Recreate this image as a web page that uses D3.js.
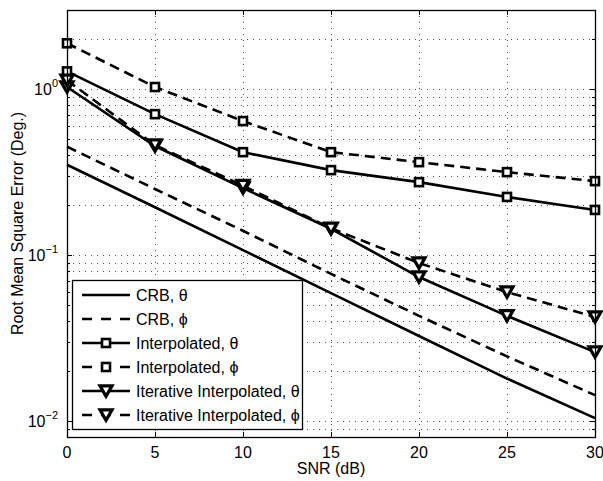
<!DOCTYPE html>
<html>
<head>
<meta charset="utf-8">
<script src="https://cdn.jsdelivr.net/npm/d3@7"></script>
<style>
  body { margin: 0; background: #fff; }
  svg { display: block; font-family: "Liberation Sans", Arial, sans-serif; }
</style>
</head>
<body>
<div id="chart"></div>
<script>
// SNR points (dB)
const snr = [0, 5, 10, 15, 20, 25, 30];

// RMSE values (degrees)
const crbTheta = [0.35, 0.194, 0.107, 0.059, 0.0325, 0.018, 0.0104];
const crbPhi = [0.45, 0.25, 0.14, 0.077, 0.043, 0.0245, 0.0143];
const interpTheta = [1.28, 0.707, 0.417, 0.325, 0.275, 0.224, 0.187];
const interpPhi = [1.89, 1.03, 0.642, 0.417, 0.363, 0.316, 0.279];
const iterTheta = [1.03, 0.454, 0.253, 0.144, 0.0737, 0.043, 0.026];
const iterPhi = [1.13, 0.46, 0.262, 0.145, 0.0895, 0.0598, 0.0423];

const xTicks = [0, 5, 10, 15, 20, 25, 30];
const yMajor = [0.01, 0.1, 1];

const series = [
  { name: "CRB, θ", values: crbTheta, dash: null, marker: null },
  { name: "CRB, ϕ", values: crbPhi, dash: "10,6", marker: null },
  { name: "Interpolated, θ", values: interpTheta, dash: null, marker: "square" },
  { name: "Interpolated, ϕ", values: interpPhi, dash: "10,6", marker: "square" },
  { name: "Iterative Interpolated, θ", values: iterTheta, dash: null, marker: "triangle" },
  { name: "Iterative Interpolated, ϕ", values: iterPhi, dash: "10,6", marker: "triangle" }
];

const width = 603, height = 481;
const margin = { left: 67, right: 8, top: 10, bottom: 44 };

const x = d3.scaleLinear().domain([0, 30]).range([margin.left, width - margin.right]);
const y = d3.scaleLog().domain([0.008, 3]).range([height - margin.bottom, margin.top]);

const svg = d3.select("#chart").append("svg")
    .attr("width", width)
    .attr("height", height);

const x0 = x.range()[0], x1 = x.range()[1];
const y0 = y.range()[0], y1 = y.range()[1];

// minor + major log ticks
const yAll = [];
for (let e = -3; e <= 0; e++) {
  for (let m = 1; m <= 9; m++) {
    const v = m * Math.pow(10, e);
    if (v >= 0.008 && v <= 3) yAll.push(v);
  }
}

// grid
const grid = svg.append("g")
    .attr("stroke", "#555")
    .attr("stroke-width", 1)
    .attr("stroke-dasharray", "1,5");

grid.selectAll("line.h")
  .data(yAll)
  .join("line")
    .attr("class", "h")
    .attr("x1", x0).attr("x2", x1)
    .attr("y1", d => Math.round(y(d)) + 0.5)
    .attr("y2", d => Math.round(y(d)) + 0.5);

grid.selectAll("line.v")
  .data(xTicks.slice(1, -1))
  .join("line")
    .attr("class", "v")
    .attr("y1", y0).attr("y2", y1)
    .attr("x1", d => Math.round(x(d)) + 0.5)
    .attr("x2", d => Math.round(x(d)) + 0.5);

// ticks (inside, on all sides)
const ticks = svg.append("g").attr("stroke", "#000").attr("stroke-width", 1);
yAll.forEach(v => {
  const len = yMajor.includes(v) ? 5 : 3;
  const yy = Math.round(y(v)) + 0.5;
  ticks.append("line").attr("x1", x0).attr("x2", x0 + len).attr("y1", yy).attr("y2", yy);
  ticks.append("line").attr("x1", x1).attr("x2", x1 - len).attr("y1", yy).attr("y2", yy);
});
xTicks.forEach(v => {
  const xx = Math.round(x(v)) + 0.5;
  ticks.append("line").attr("y1", y0).attr("y2", y0 - 5).attr("x1", xx).attr("x2", xx);
  ticks.append("line").attr("y1", y1).attr("y2", y1 + 5).attr("x1", xx).attr("x2", xx);
});

// series
const line = d3.line()
    .x((d, i) => x(snr[i]))
    .y(d => y(d));

const sq = 8, tri = 12;
function drawMarker(g, type, cx, cy) {
  if (type === "square") {
    g.append("rect")
      .attr("x", cx - sq / 2).attr("y", cy - sq / 2)
      .attr("width", sq).attr("height", sq)
      .attr("fill", "#fff").attr("stroke", "#000").attr("stroke-width", 2.6);
  } else if (type === "triangle") {
    const h = tri * 0.866;
    g.append("path")
      .attr("d", `M${cx - tri / 2},${cy - h / 2}L${cx + tri / 2},${cy - h / 2}L${cx},${cy + h / 2}Z`)
      .attr("fill", "#fff").attr("stroke", "#000").attr("stroke-width", 3.2)
      .attr("stroke-linejoin", "miter");
  }
}

series.forEach(s => {
  const g = svg.append("g");
  g.append("path")
    .datum(s.values)
    .attr("d", line)
    .attr("fill", "none")
    .attr("stroke", "#000")
    .attr("stroke-width", 2.6)
    .attr("stroke-dasharray", s.dash);
  if (s.marker) {
    s.values.forEach((v, i) => drawMarker(g, s.marker, x(snr[i]), y(v)));
  }
});

// frame
svg.append("rect")
    .attr("x", x0 + 0.5).attr("y", y1 + 0.5)
    .attr("width", x1 - x0).attr("height", y0 - y1)
    .attr("fill", "none").attr("stroke", "#000").attr("stroke-width", 1.3);

// tick labels
svg.append("g")
  .selectAll("text")
  .data(xTicks)
  .join("text")
    .attr("x", d => x(d))
    .attr("y", y0 + 21)
    .attr("text-anchor", "middle")
    .attr("font-size", 16)
    .text(d => d);

const expo = { 0.01: "−2", 0.1: "−1", 1: "0" };
const yl = svg.append("g")
  .selectAll("text")
  .data(yMajor)
  .join("text")
    .attr("x", x0 - 9)
    .attr("y", d => y(d) + 6)
    .attr("text-anchor", "end")
    .attr("font-size", 16);
yl.append("tspan").text("10");
yl.append("tspan").attr("dy", -8).attr("font-size", 11).text(d => expo[d]);

// axis titles
svg.append("text")
    .attr("x", (x0 + x1) / 2)
    .attr("y", y0 + 37)
    .attr("text-anchor", "middle")
    .attr("font-size", 16)
    .text("SNR (dB)");

svg.append("text")
    .attr("transform", `translate(23,${(y0 + y1) / 2}) rotate(-90)`)
    .attr("text-anchor", "middle")
    .attr("font-size", 16)
    .text("Root Mean Square Error (Deg.)");

// legend
const lg = svg.append("g");
lg.append("rect")
    .attr("x", 72.5).attr("y", 280.5)
    .attr("width", 230).attr("height", 149)
    .attr("fill", "#fff").attr("stroke", "#000").attr("stroke-width", 1.3);

const rowY = [295, 319, 343, 367, 391, 415];
series.forEach((s, i) => {
  const yy = rowY[i];
  const row = lg.append("g");
  row.append("line")
    .attr("x1", 82).attr("x2", 130)
    .attr("y1", yy).attr("y2", yy)
    .attr("stroke", "#000").attr("stroke-width", 2.6)
    .attr("stroke-dasharray", s.dash ? "10,9" : null);
  if (s.marker) drawMarker(row, s.marker, 106, yy);
  row.append("text")
    .attr("x", 136).attr("y", yy + 6)
    .attr("font-size", 16)
    .text(s.name);
});
</script>
</body>
</html>
